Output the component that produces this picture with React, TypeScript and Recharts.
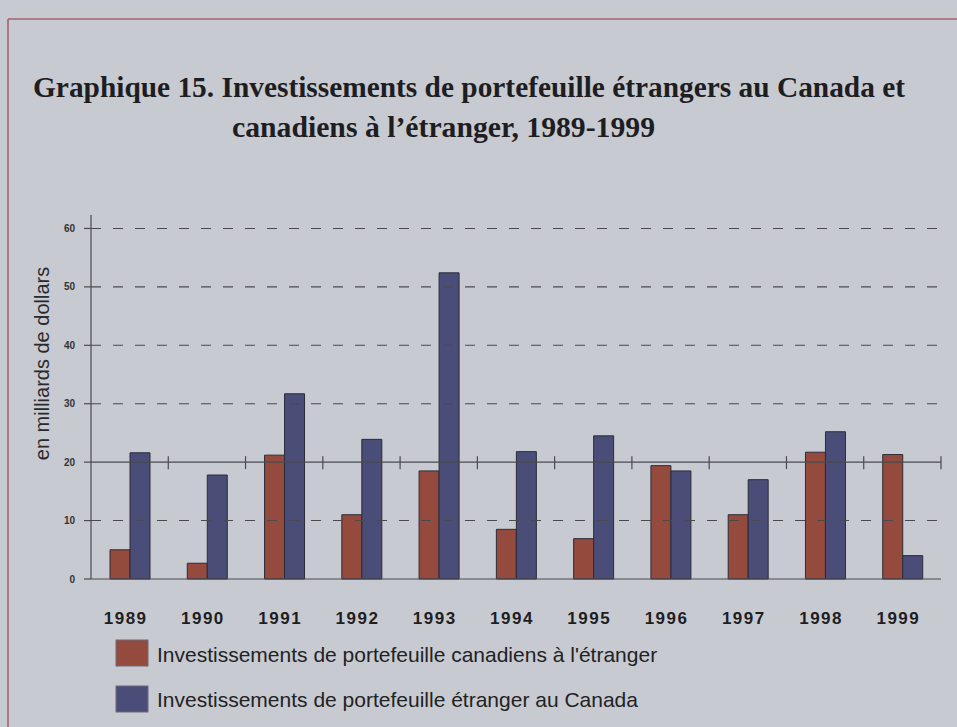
import React from 'react';
import { BarChart, Bar, XAxis, YAxis, ReferenceLine } from 'recharts';

const years = ['1989', '1990', '1991', '1992', '1993', '1994', '1995', '1996', '1997', '1998', '1999'];
const canadiensEtranger = [5.0, 2.7, 21.2, 11.0, 18.5, 8.5, 6.9, 19.4, 11.0, 21.7, 21.3];
const etrangersCanada = [21.6, 17.8, 31.7, 23.9, 52.4, 21.8, 24.5, 18.5, 17.0, 25.2, 4.0];
const yTicks = [0, 10, 20, 30, 40, 50, 60];
const dashedRows = [10, 30, 40, 50, 60];

const seriesNames = [
  "Investissements de portefeuille canadiens à l'étranger",
  'Investissements de portefeuille étranger au Canada',
];
const titleLine1 = 'Graphique 15. Investissements de portefeuille étrangers au Canada et';
const titleLine2 = 'canadiens à l’étranger, 1989-1999';
const yLabel = 'en milliards de dollars';

const data = years.map((y, i) => ({
  year: y,
  canadiens: canadiensEtranger[i],
  etrangers: etrangersCanada[i],
}));

const BG = '#c8cad2';
const RED = '#944a3d';
const BLUE = '#4a4d78';
const OUTLINE = '#2c2c38';
const AXIS = '#4a4a4e';
const SANS = '"Liberation Sans", Arial, Helvetica, sans-serif';
const SERIF = '"Liberation Serif", "Times New Roman", serif';

const TickedLine = (props: any) => {
  const { x1, y1, x2, y2 } = props;
  const n = years.length;
  const step = (x2 - x1) / n;
  return (
    <g>
      <line x1={x1} y1={y1} x2={x2} y2={y2} stroke={AXIS} strokeWidth={1.2} />
      {years.map((_, i) => {
        const x = x1 + step * (i + 1);
        return <line key={i} x1={x} x2={x} y1={y1 - 6} y2={y1 + 7} stroke={AXIS} strokeWidth={1.2} />;
      })}
    </g>
  );
};

export default function App() {
  return (
    <div style={{ position: 'absolute', left: 0, top: 0, width: 957, height: 727, background: BG, overflow: 'hidden' }}>
      <div style={{ position: 'absolute', left: 0, top: 0 }}>
        <BarChart
          width={957}
          height={727}
          data={data}
          margin={{ top: 215, right: 16, bottom: 118, left: 61 }}
          barGap={0}
          barSize={20}
        >
          <XAxis
            dataKey="year"
            height={30}
            tickLine={false}
            tickSize={0}
            tickMargin={33}
            axisLine={{ stroke: AXIS, strokeWidth: 1.2 }}
            interval={0}
            tick={{ fill: '#1e1e22', fontSize: 17, fontWeight: 700, fontFamily: SANS, letterSpacing: 1.5, dx: -4 }}
          />
          <YAxis
            type="number"
            domain={[0, 62.3]}
            ticks={yTicks}
            interval={0}
            width={30}
            tickSize={7}
            tickMargin={9}
            axisLine={{ stroke: AXIS, strokeWidth: 1.2 }}
            tickLine={{ stroke: AXIS, strokeWidth: 1.2 }}
            tick={{ fill: '#333', fontSize: 10, fontWeight: 700, fontFamily: SANS }}
          />
          {dashedRows.map((v) => (
            <ReferenceLine key={v} y={v} stroke={AXIS} strokeWidth={1.1} strokeDasharray="10 12" />
          ))}
          <ReferenceLine y={20} shape={TickedLine} />
          <Bar dataKey="canadiens" fill={RED} stroke={OUTLINE} strokeWidth={1} isAnimationActive={false} />
          <Bar dataKey="etrangers" fill={BLUE} stroke={OUTLINE} strokeWidth={1} isAnimationActive={false} />
        </BarChart>
      </div>
      <svg width={957} height={727} style={{ position: 'absolute', left: 0, top: 0, pointerEvents: 'none' }}>
        <line x1={8} y1={19} x2={957} y2={19} stroke="#a8606a" strokeWidth={1.6} />
        <line x1={8} y1={19} x2={8} y2={727} stroke="#a8606a" strokeWidth={1.6} />
        <text x={33} y={97} fontFamily={SERIF} fontWeight={700} fontSize={29} fill="#1e1e22" textLength={872} lengthAdjust="spacingAndGlyphs">
          {titleLine1}
        </text>
        <text x={232} y={137} fontFamily={SERIF} fontWeight={700} fontSize={29} fill="#1e1e22" textLength={423} lengthAdjust="spacingAndGlyphs">
          {titleLine2}
        </text>
        <text transform="translate(49,363.5) rotate(-90)" textAnchor="middle" fontFamily={SANS} fontSize={20} fill="#2a2a2e">
          {yLabel}
        </text>
        <rect x={116} y={640} width={32} height={26} fill={RED} stroke="#6a6a78" strokeWidth={1} />
        <rect x={116} y={686} width={32} height={26} fill={BLUE} stroke="#6a6a78" strokeWidth={1} />
        <text x={157} y={662} fontFamily={SANS} fontSize={21} fill="#222">{seriesNames[0]}</text>
        <text x={157} y={707} fontFamily={SANS} fontSize={21} fill="#222">{seriesNames[1]}</text>
      </svg>
    </div>
  );
}
